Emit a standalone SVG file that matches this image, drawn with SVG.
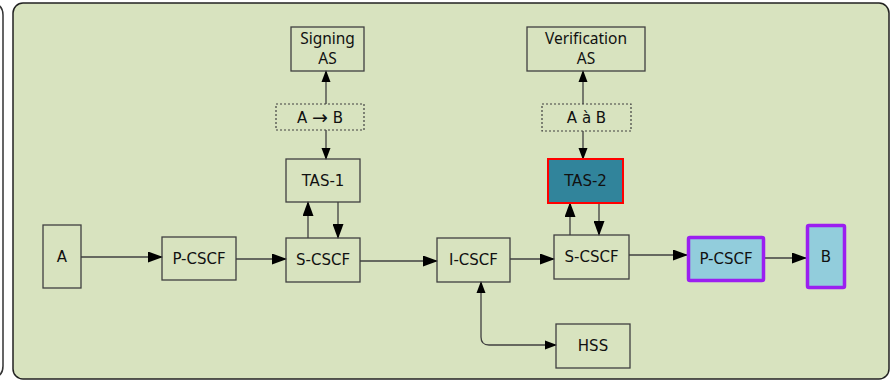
<svg xmlns="http://www.w3.org/2000/svg" width="892" height="380" viewBox="0 0 892 380">
<defs>
<marker id="ah" markerUnits="userSpaceOnUse" markerWidth="15" markerHeight="11" refX="14" refY="5.5" orient="auto">
<path d="M0,0 L15,5.5 L0,11 Z" fill="#000"/>
</marker>
<marker id="ahs" markerUnits="userSpaceOnUse" markerWidth="12" markerHeight="10" refX="11" refY="5" orient="auto">
<path d="M0,0.5 L12,5 L0,9.5 Z" fill="#000"/>
</marker>
<marker id="ahr" markerUnits="userSpaceOnUse" markerWidth="12" markerHeight="10" refX="1" refY="5" orient="auto">
<path d="M12,0.5 L0,5 L12,9.5 Z" fill="#000"/>
</marker>
</defs>
<style>
.box{fill:none;stroke:#404040;stroke-width:1.3}
.dash{fill:none;stroke:#404040;stroke-width:1.2;stroke-dasharray:2,2}
.t{font-family:"DejaVu Sans",sans-serif;font-size:15px;fill:#111;text-anchor:middle}
.c{font-family:"Noto Sans","Open Sans",sans-serif;font-size:15.5px;fill:#111;text-anchor:middle}
.ln{fill:none;stroke:#404040;stroke-width:1.3}
</style>
<rect x="0" y="0" width="892" height="380" fill="#fff"/>
<path d="M-10,3 Q3,3 3,15 L3,366 Q3,378 -10,378" fill="none" stroke="#333" stroke-width="1.5"/>
<rect x="13" y="3" width="876" height="376" rx="10" fill="#d8e3bf" stroke="#222" stroke-width="1.5"/>

<g id="connectors">
<line class="ln" x1="81" y1="257" x2="162" y2="257" marker-end="url(#ah)"/>
<line class="ln" x1="236" y1="259" x2="286" y2="259" marker-end="url(#ah)"/>
<line class="ln" x1="360" y1="261" x2="437" y2="261" marker-end="url(#ah)"/>
<line class="ln" x1="510" y1="259" x2="554" y2="259" marker-end="url(#ah)"/>
<line class="ln" x1="629" y1="255" x2="687" y2="255" stroke-width="2.2" stroke="#111" marker-end="url(#ah)"/>
<line class="ln" x1="765" y1="258" x2="806" y2="258" marker-end="url(#ah)"/>
<path class="ln" d="M481,282 L481,337 Q481,345 489,345 L556,345" marker-start="url(#ahr)" marker-end="url(#ahs)"/>
<line class="ln" x1="308" y1="238" x2="308" y2="202" stroke-width="1.8" stroke="#111" marker-end="url(#ah)"/>
<line class="ln" x1="338" y1="202" x2="338" y2="238" stroke-width="1.8" stroke="#111" marker-end="url(#ah)"/>
<line class="ln" x1="326" y1="130" x2="326" y2="159" marker-end="url(#ahs)"/>
<line class="ln" x1="326" y1="104" x2="326" y2="71" marker-end="url(#ahs)"/>
<line class="ln" x1="583" y1="131" x2="583" y2="159" marker-end="url(#ahs)"/>
<line class="ln" x1="583" y1="104" x2="583" y2="71" marker-end="url(#ahs)"/>
<line class="ln" x1="570" y1="235" x2="570" y2="203" stroke-width="1.8" stroke="#111" marker-end="url(#ah)"/>
<line class="ln" x1="599" y1="203" x2="599" y2="235" stroke-width="1.8" stroke="#111" marker-end="url(#ah)"/>
</g>

<g id="A"><rect class="box" x="43" y="225" width="38" height="63"/><text class="t" x="62" y="262">A</text></g>
<g id="P-CSCF-1"><rect class="box" x="162" y="237" width="74" height="43"/><text class="t" x="199" y="264">P-CSCF</text></g>
<g id="S-CSCF-1"><rect class="box" x="286" y="238" width="74" height="44"/><text class="t" x="323" y="265">S-CSCF</text></g>
<g id="I-CSCF"><rect class="box" x="437" y="238" width="73" height="44"/><text class="t" x="473.5" y="265">I-CSCF</text></g>
<g id="S-CSCF-2"><rect class="box" x="554" y="235" width="75" height="44"/><text class="t" x="591.5" y="262">S-CSCF</text></g>
<g id="HSS"><rect class="box" x="556" y="324" width="74" height="44"/><text class="t" x="593" y="351">HSS</text></g>
<g id="TAS-1"><rect class="box" x="286" y="159" width="74" height="43"/><text class="t" x="323" y="186">TAS-1</text></g>
<g id="TAS-2"><rect x="548" y="159" width="75" height="44" fill="#31849b" stroke="#ff0000" stroke-width="2"/><text class="t" x="585.5" y="186">TAS-2</text></g>
<g id="AtoB-1"><rect class="dash" x="276" y="104" width="88" height="26"/><text class="t" x="320" y="122.5">A <tspan font-size="19" dy="1">→</tspan><tspan dy="-1"> B</tspan></text></g>
<g id="AtoB-2"><rect class="dash" x="542" y="104" width="89" height="27"/><text class="t" x="586.5" y="123">A à B</text></g>
<g id="Signing-AS"><rect class="box" x="291" y="27" width="73" height="44"/><text class="c" x="327.5" y="44">Signing</text><text class="c" x="327.5" y="64">AS</text></g>
<g id="Verification-AS"><rect class="box" x="527" y="27" width="118" height="44"/><text class="c" x="586" y="44">Verification</text><text class="c" x="586" y="64">AS</text></g>
<g id="P-CSCF-2"><rect x="688.5" y="237.5" width="75" height="43" rx="1.5" fill="#92cddc" stroke="#9b1ff0" stroke-width="3.5"/><text class="t" x="726" y="264">P-CSCF</text></g>
<g id="B"><rect x="807.5" y="225.5" width="37" height="62" rx="1.5" fill="#92cddc" stroke="#9b1ff0" stroke-width="3.5"/><text class="t" x="826" y="262">B</text></g>
</svg>
